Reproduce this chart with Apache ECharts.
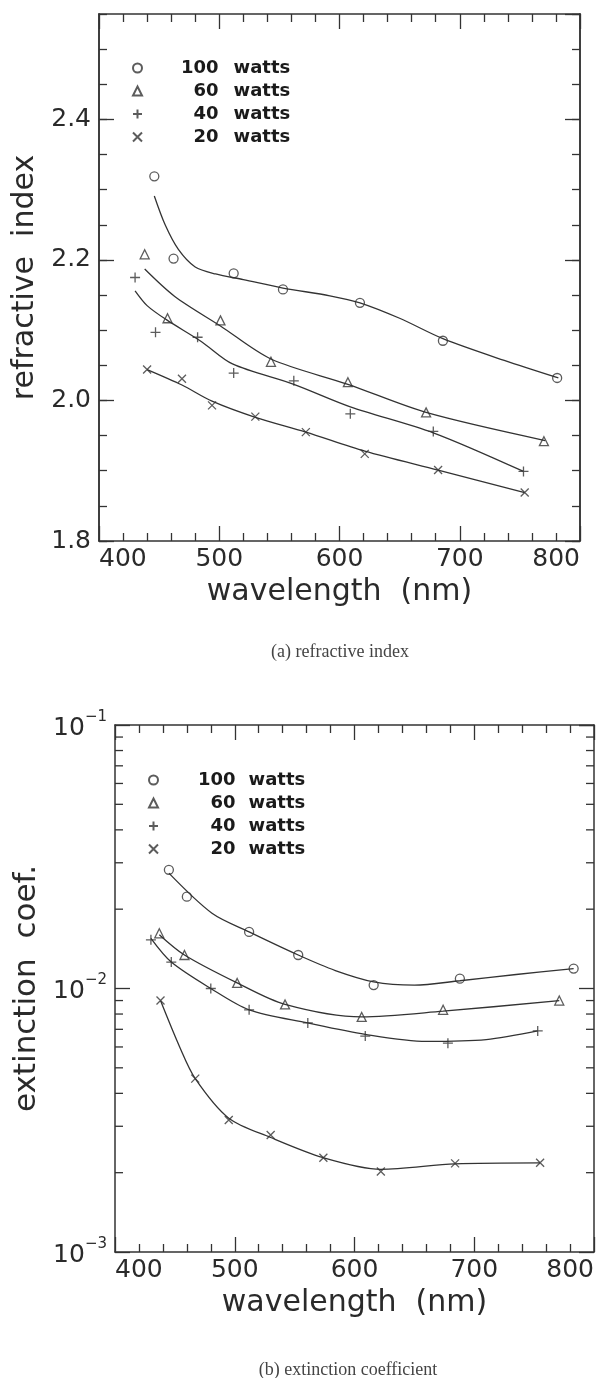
<!DOCTYPE html>
<html>
<head>
<meta charset="utf-8">
<script src="https://cdn.jsdelivr.net/npm/echarts@6/dist/echarts.min.js"></script>
<style>
  html, body { margin: 0; padding: 0; background: #fff; }
  #main { width: 604px; height: 1378px; }
</style>
</head>
<body>
<div id="main"></div>
<script>
// (a) refractive index, measured points
const wl100a = [446, 462, 512, 553, 617, 686, 781];
const n100 = [2.319, 2.202, 2.181, 2.158, 2.139, 2.085, 2.032];
const wl60a = [438, 457, 501, 543, 607, 672, 770];
const n60 = [2.208, 2.117, 2.114, 2.055, 2.026, 1.983, 1.942];
const wl40a = [430, 447, 482, 512, 562, 609, 678, 753];
const n40 = [2.175, 2.097, 2.090, 2.039, 2.028, 1.981, 1.956, 1.899];
const wl20a = [440, 469, 494, 530, 572, 621, 682, 754];
const n20 = [2.044, 2.031, 1.993, 1.977, 1.955, 1.924, 1.901, 1.869];

// (a) fitted curves
const fit100aX = [446, 455, 466, 480, 497, 520, 553, 592, 617, 650, 686, 737, 782];
const fit100aY = [2.291, 2.250, 2.215, 2.190, 2.180, 2.172, 2.160, 2.149, 2.139, 2.117, 2.088, 2.057, 2.032];
const fit60aX = [438, 463, 501, 543, 607, 672, 771];
const fit60aY = [2.187, 2.148, 2.106, 2.059, 2.023, 1.983, 1.943];
const fit40aX = [430, 440, 456, 485, 511, 562, 609, 678, 753];
const fit40aY = [2.156, 2.135, 2.115, 2.084, 2.052, 2.023, 1.991, 1.954, 1.899];
const fit20aX = [440, 469, 494, 530, 572, 621, 682, 754];
const fit20aY = [2.044, 2.022, 1.999, 1.976, 1.955, 1.928, 1.901, 1.869];

// (b) extinction coefficient, measured points
const wl100b = [445, 460, 512, 553, 616, 688, 783];
const k100 = [0.0282, 0.0223, 0.0164, 0.0134, 0.0103, 0.0109, 0.0119];
const wl60b = [437, 458, 502, 542, 606, 674, 771];
const k60 = [0.0162, 0.0134, 0.0105, 0.0087, 0.0078, 0.0083, 0.0090];
const wl40b = [430, 447, 480, 512, 561, 609, 678, 753];
const k40 = [0.0153, 0.0126, 0.0100, 0.0083, 0.0074, 0.0066, 0.0062, 0.0069];
const wl20b = [438, 467, 495, 530, 574, 622, 684, 755];
const k20 = [0.0090, 0.00455, 0.00317, 0.00278, 0.00228, 0.00202, 0.00217, 0.00218];

// (b) fitted curves
const fit100bX = [445, 481, 512, 553, 584, 616, 650, 688, 735, 783];
const fit100bY = [0.0274, 0.0193, 0.0164, 0.0134, 0.0117, 0.0106, 0.0103, 0.0107, 0.0113, 0.0119];
const fit60bX = [437, 458, 502, 542, 606, 674, 771];
const fit60bY = [0.0160, 0.0134, 0.0105, 0.0087, 0.0078, 0.0082, 0.0090];
const fit40bX = [430, 447, 480, 512, 561, 609, 660, 710, 753];
const fit40bY = [0.0155, 0.0126, 0.0100, 0.0083, 0.0074, 0.0067, 0.0063, 0.0064, 0.0069];
const fit20bX = [438, 454, 467, 495, 530, 574, 622, 684, 755];
const fit20bY = [0.0090, 0.0060, 0.00455, 0.00322, 0.00272, 0.00228, 0.00206, 0.00216, 0.00218];

const powers = ['100', '60', '40', '20'];
const logMinorTicks = [0.002, 0.003, 0.004, 0.005, 0.006, 0.007, 0.008, 0.009,
                       0.02, 0.03, 0.04, 0.05, 0.06, 0.07, 0.08, 0.09];

const FONT = 'DejaVu Sans';
const INK = '#2a2a2a';
const LINE = '#333';

const symbols = {
  '100': 'circle',
  '60': 'triangle',
  '40': 'path://M5,0L5,10M0,5L10,5',
  '20': 'path://M0,0L10,10M10,0L0,10'
};
const symbolSizes = { '100': 9, '60': 9, '40': 10, '20': 8 };

function pairs(xs, ys) {
  return xs.map((x, i) => [x, ys[i]]);
}

function pointSeries(name, p, xi, yi, xs, ys) {
  return {
    type: 'scatter', name: name, xAxisIndex: xi, yAxisIndex: yi,
    data: pairs(xs, ys), symbol: symbols[p], symbolSize: symbolSizes[p],
    itemStyle: { color: 'transparent', borderColor: LINE, borderWidth: 1.3 },
    z: 4
  };
}

function curveSeries(name, xi, yi, xs, ys) {
  return {
    type: 'line', name: name, xAxisIndex: xi, yAxisIndex: yi,
    data: pairs(xs, ys), smooth: 0.3, showSymbol: false, symbol: 'none',
    lineStyle: { color: LINE, width: 1.3 }, silent: true, z: 3
  };
}

const tickStyle = { color: LINE, width: 1.3 };
const lineStyle = { color: LINE, width: 1.5 };
const labelFont = { fontFamily: FONT, fontSize: 25, color: INK };

function xAxes(grid, pos, withLabels, gap) {
  return {
    gridIndex: grid, type: 'value', position: pos, min: 400, max: 800, interval: 100,
    axisLine: { onZero: false, lineStyle: lineStyle },
    axisTick: { inside: true, length: 15, lineStyle: tickStyle },
    minorTick: { show: true, splitNumber: 5, length: 8, lineStyle: tickStyle },
    splitLine: { show: false },
    axisLabel: Object.assign({ show: withLabels, margin: 6, alignMinLabel: 'left', alignMaxLabel: 'right' }, labelFont),
    name: withLabels ? 'wavelength  (nm)' : '',
    nameLocation: 'middle', nameGap: gap,
    nameTextStyle: { fontFamily: FONT, fontSize: 30, color: INK }
  };
}

function linY(pos, interval, tickLen, withLabels) {
  return {
    gridIndex: 0, type: 'value', position: pos, min: 1.8, max: 2.55, interval: interval,
    axisLine: { onZero: false, lineStyle: lineStyle },
    axisTick: { inside: true, length: tickLen, lineStyle: tickStyle },
    splitLine: { show: false },
    axisLabel: Object.assign({ show: withLabels, margin: 8, showMaxLabel: false,
      formatter: v => v.toFixed(1) }, labelFont),
    name: withLabels ? 'refractive  index' : '',
    nameLocation: 'middle', nameRotate: 90, nameGap: 48,
    nameTextStyle: { fontFamily: FONT, fontSize: 30, color: INK }
  };
}

function logY(pos, withLabels) {
  return {
    gridIndex: 1, type: 'log', logBase: 10, position: pos, min: 0.001, max: 0.1,
    axisLine: { onZero: false, lineStyle: lineStyle },
    axisTick: { inside: true, length: 15, lineStyle: tickStyle },
    splitLine: { show: false },
    axisLabel: {
      show: withLabels, margin: 8,
      formatter: v => '{b|10}{s|\u2212' + Math.round(-Math.log10(v)) + '}',
      rich: {
        b: { fontFamily: FONT, fontSize: 25, color: INK, padding: [6, 0, 0, 0] },
        s: { fontFamily: FONT, fontSize: 15, color: INK, verticalAlign: 'top' }
      }
    },
    name: withLabels ? 'extinction  coef.' : '',
    nameLocation: 'middle', nameRotate: 90, nameGap: 67,
    nameTextStyle: { fontFamily: FONT, fontSize: 31, color: INK }
  };
}

function legendFor(prefix, left, top, numPad, wattPad) {
  const txt = { fontFamily: FONT, fontSize: 18, fontWeight: 'bold', color: '#1a1a1a' };
  return {
    orient: 'vertical', left: left, top: top, padding: 0,
    itemWidth: 9, itemHeight: 9, itemGap: 3, selectedMode: false,
    data: powers.map(p => prefix + p),
    formatter: name => '{n|' + name.slice(prefix.length).padStart(3, '\u2007') + '}{w|watts}',
    textStyle: Object.assign({ lineHeight: 20, rich: {
      n: Object.assign({ padding: [0, 0, 0, numPad] }, txt),
      w: Object.assign({ padding: [0, 0, 0, wattPad] }, txt)
    } }, txt)
  };
}

const series = [
  pointSeries('a100', '100', 0, 0, wl100a, n100),
  pointSeries('a60', '60', 0, 0, wl60a, n60),
  pointSeries('a40', '40', 0, 0, wl40a, n40),
  pointSeries('a20', '20', 0, 0, wl20a, n20),
  curveSeries('fa100', 0, 0, fit100aX, fit100aY),
  curveSeries('fa60', 0, 0, fit60aX, fit60aY),
  curveSeries('fa40', 0, 0, fit40aX, fit40aY),
  curveSeries('fa20', 0, 0, fit20aX, fit20aY),
  pointSeries('b100', '100', 2, 4, wl100b, k100),
  pointSeries('b60', '60', 2, 4, wl60b, k60),
  pointSeries('b40', '40', 2, 4, wl40b, k40),
  pointSeries('b20', '20', 2, 4, wl20b, k20),
  curveSeries('fb100', 2, 4, fit100bX, fit100bY),
  curveSeries('fb60', 2, 4, fit60bX, fit60bY),
  curveSeries('fb40', 2, 4, fit40bX, fit40bY),
  curveSeries('fb20', 2, 4, fit20bX, fit20bY),
  {
    // minor ticks of the log axis at 2..9 x 10^n, on both sides
    type: 'custom', name: 'logMinor', xAxisIndex: 2, yAxisIndex: 4, silent: true,
    data: logMinorTicks.map(v => [400, v]),
    renderItem: function (params, api) {
      const l = api.coord([400, api.value(1)]);
      const r = api.coord([800, api.value(1)]);
      return {
        type: 'group',
        children: [
          { type: 'line', shape: { x1: l[0], y1: l[1], x2: l[0] + 8, y2: l[1] }, style: { stroke: LINE, lineWidth: 1.3 } },
          { type: 'line', shape: { x1: r[0] - 8, y1: r[1], x2: r[0], y2: r[1] }, style: { stroke: LINE, lineWidth: 1.3 } }
        ]
      };
    }
  }
];

const chart = echarts.init(document.getElementById('main'), null, { renderer: 'canvas' });
chart.setOption({
  animation: false,
  backgroundColor: '#fff',
  grid: [
    { left: 99, top: 14, width: 481, height: 527 },
    { left: 115, top: 725, width: 479, height: 527 }
  ],
  legend: [
    legendFor('a', 132, 58, 34, 15),
    legendFor('b', 148, 770, 35, 13)
  ],
  xAxis: [
    xAxes(0, 'bottom', true, 36),
    xAxes(0, 'top', false, 36),
    xAxes(1, 'bottom', true, 36),
    xAxes(1, 'top', false, 36)
  ],
  yAxis: [
    linY('left', 0.2, 15, true),
    linY('left', 0.05, 8, false),
    linY('right', 0.2, 15, false),
    linY('right', 0.05, 8, false),
    logY('left', true),
    logY('right', false)
  ],
  graphic: [
    { type: 'text', x: 340, y: 652, style: { text: '(a) refractive index', fontFamily: 'Liberation Serif', fontSize: 18, fill: '#444', align: 'center', verticalAlign: 'middle' } },
    { type: 'text', x: 348, y: 1370, style: { text: '(b) extinction coefficient', fontFamily: 'Liberation Serif', fontSize: 18, fill: '#444', align: 'center', verticalAlign: 'middle' } }
  ],
  series: series
});
</script>
</body>
</html>
